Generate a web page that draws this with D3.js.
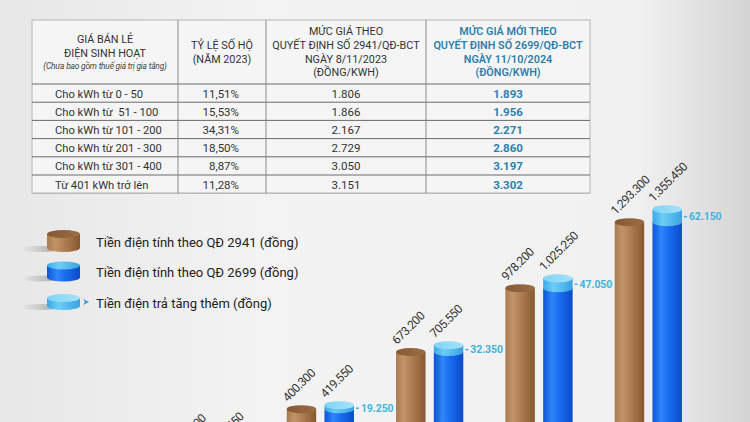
<!DOCTYPE html>
<html>
<head>
<meta charset="utf-8">
<script src="https://cdn.jsdelivr.net/npm/d3@7"></script>
<style>
  body { margin: 0; background: #eee; }
  svg { display: block; font-family: Roboto, "Noto Sans", sans-serif; }
</style>
</head>
<body>
<div id="chart"></div>
<script>
// table data
var tiers = ["Cho kWh từ 0 - 50", "Cho kWh từ  51 - 100", "Cho kWh từ 101 - 200",
             "Cho kWh từ 201 - 300", "Cho kWh từ 301 - 400", "Từ 401 kWh trở lên"];
var shares = ["11,51%", "15,53%", "34,31%", "18,50%", "8,87%", "11,28%"];
var priceOld = ["1.806", "1.866", "2.167", "2.729", "3.050", "3.151"];
var priceNew = ["1.893", "1.956", "2.271", "2.860", "3.197", "3.302"];

// chart data (bill in dong for a given monthly consumption)
var usage = [50, 100, 200, 300, 400, 500];
var billOld = [90300, 183600, 400300, 673200, 978200, 1293300];
var billNew = [94650, 192450, 419550, 705550, 1025250, 1355450];
var billDiff = [4350, 8850, 19250, 32350, 47050, 62150];

var legendLabels = ["Tiền điện tính theo QĐ 2941 (đồng)",
                    "Tiền điện tính theo QĐ 2699 (đồng)",
                    "Tiền điện trả tăng thêm (đồng)"];

var W = 750, H = 422;
var svg = d3.select("#chart").append("svg")
    .attr("width", W)
    .attr("height", H);

var defs = svg.append("defs");

function hGrad(id, stops) {
  var g = defs.append("linearGradient").attr("id", id)
      .attr("x1", "0%").attr("x2", "100%").attr("y1", "0%").attr("y2", "0%");
  stops.forEach(function(s) {
    g.append("stop").attr("offset", s[0]).attr("stop-color", s[1]);
  });
}
hGrad("bg", [["0%", "#e7e7e7"], ["35%", "#f3f3f3"], ["85%", "#f1f1f1"], ["100%", "#d4d4d4"]]);
hGrad("brown", [["0%", "#a87a4f"], ["25%", "#c29468"], ["60%", "#a9784c"], ["100%", "#865832"]]);
hGrad("brownTop", [["0%", "#855934"], ["100%", "#9c6d45"]]);
hGrad("blue", [["0%", "#0c55d6"], ["30%", "#2f86fb"], ["55%", "#1a6cf0"], ["100%", "#0a4bc8"]]);
hGrad("cyan", [["0%", "#3aa9e6"], ["35%", "#6ccdf6"], ["100%", "#3aa2e0"]]);
hGrad("cyanTop", [["0%", "#7fd4f6"], ["100%", "#a6e2f8"]]);
hGrad("shadow", [["0%", "rgba(80,80,80,0)"], ["100%", "rgba(60,60,60,0.7)"]]);

svg.append("rect").attr("width", W).attr("height", H).attr("fill", "url(#bg)");

// ---------- table ----------
var tx = [32, 178, 266, 426, 590];
var headTop = 20, headBottom = 84, rowH = 18.2;
var table = svg.append("g");

table.append("rect")
    .attr("x", tx[0]).attr("y", headTop)
    .attr("width", tx[4] - tx[0]).attr("height", headBottom - headTop + rowH * 6)
    .attr("fill", "#f5f5f5").attr("stroke", "#b5b5b5");

// row lines
d3.range(7).forEach(function(i) {
  table.append("line")
      .attr("x1", tx[0]).attr("x2", tx[4])
      .attr("y1", headBottom + i * rowH).attr("y2", headBottom + i * rowH)
      .attr("stroke", i == 6 ? "#b5b5b5" : "#6a6a6a").attr("stroke-width", 1);
});
[1, 2, 3].forEach(function(i) {
  table.append("line")
      .attr("x1", tx[i]).attr("x2", tx[i])
      .attr("y1", headTop).attr("y2", headBottom + rowH * 6)
      .attr("stroke", "#8a8a8a");
});

function headText(lines, cx, y0, color, weight) {
  lines.forEach(function(t, i) {
    table.append("text")
        .attr("x", cx).attr("y", y0 + i * 13.8)
        .attr("text-anchor", "middle")
        .attr("font-size", 10.8)
        .attr("font-weight", weight)
        .attr("fill", color)
        .text(t);
  });
}
headText(["GIÁ BÁN LẺ", "ĐIỆN SINH HOẠT"], 105, 43, "#333", 400);
table.append("text")
    .attr("x", 105).attr("y", 69)
    .attr("text-anchor", "middle")
    .attr("font-size", 8.4).attr("font-style", "italic")
    .attr("fill", "#444")
    .attr("letter-spacing", -0.2)
    .text("(Chưa bao gồm thuế giá trị gia tăng)");
headText(["TỶ LỆ SỐ HỘ", "(NĂM 2023)"], 222, 49, "#333", 400);
headText(["MỨC GIÁ THEO", "QUYẾT ĐỊNH SỐ 2941/QĐ-BCT", "NGÀY 8/11/2023", "(ĐỒNG/KWH)"], 346, 35, "#333", 400);
headText(["MỨC GIÁ MỚI THEO", "QUYẾT ĐỊNH SỐ 2699/QĐ-BCT", "NGÀY 11/10/2024", "(ĐỒNG/KWH)"], 508, 35, "#2e7fae", 600);

var rowY = function(i) { return headBottom + i * rowH + 13.5; };
table.selectAll(".c1").data(tiers).enter().append("text")
    .attr("x", 55).attr("y", function(d, i) { return rowY(i); })
    .attr("font-size", 11.2).attr("fill", "#333")
    .attr("xml:space", "preserve")
    .style("white-space", "pre")
    .text(function(d) { return d; });
table.selectAll(".c2").data(shares).enter().append("text")
    .attr("x", 239).attr("y", function(d, i) { return rowY(i); })
    .attr("text-anchor", "end")
    .attr("font-size", 11.5).attr("fill", "#333")
    .text(function(d) { return d; });
table.selectAll(".c3").data(priceOld).enter().append("text")
    .attr("x", 346).attr("y", function(d, i) { return rowY(i); })
    .attr("text-anchor", "middle")
    .attr("font-size", 11.5).attr("fill", "#333")
    .text(function(d) { return d; });
table.selectAll(".c4").data(priceNew).enter().append("text")
    .attr("x", 508).attr("y", function(d, i) { return rowY(i); })
    .attr("text-anchor", "middle")
    .attr("font-size", 11.5).attr("font-weight", 700).attr("fill", "#2e7fae")
    .text(function(d) { return d; });

// ---------- legend ----------
function cylinder(g, x, y, w, h, body, top, ry) {
  g.append("ellipse").attr("cx", x + 2).attr("cy", y + h + 1).attr("rx", w / 2 + 4).attr("ry", 3)
      .attr("fill", "url(#shadow)").attr("opacity", 0.6)
      .attr("transform", "translate(-8,0)");
  g.append("path")
      .attr("d", "M" + x + "," + y + " L" + x + "," + (y + h) +
                 " A" + (w / 2) + "," + ry + " 0 0 0 " + (x + w) + "," + (y + h) +
                 " L" + (x + w) + "," + y + " Z")
      .attr("fill", body);
  g.append("ellipse").attr("cx", x + w / 2).attr("cy", y).attr("rx", w / 2).attr("ry", ry)
      .attr("fill", top);
}

var legend = svg.append("g");
var legendFill = [["url(#brown)", "url(#brownTop)", 14], ["url(#blue)", "url(#cyan)", 12], ["url(#cyan)", "url(#cyanTop)", 8]];
legendLabels.forEach(function(t, i) {
  var cy = 242 + i * 30.5;
  var f = legendFill[i];
  cylinder(legend, 47, cy - f[2] / 2 - 1, 33, f[2], f[0], f[1], 4);
  legend.append("text")
      .attr("x", 96).attr("y", cy + 4.5)
      .attr("font-size", 13).attr("fill", "#222")
      .text(t);
});
legend.append("path")
    .attr("d", "M83,299 L89,302 L83,305 L85,302 Z")
    .attr("fill", "#2b9fd6");

// ---------- bars ----------
var cats = usage.map(String);
var x0 = d3.scaleBand().domain(cats).range([47, 703]).paddingInner(0.385).paddingOuter(0.1925);
var x1 = d3.scaleBand().domain(["old", "new"]).range([0, x0.bandwidth()]).paddingInner(0.22);
var y = d3.scaleLinear().domain([0, 1000000]).range([489, 279.6]);
var ry = 4, bottom = H + 10;
var bw = x1.bandwidth();
var fmt = function(v) { return d3.format(",")(v).replace(/,/g, "."); };

var groups = svg.append("g").selectAll("g").data(cats).enter().append("g")
    .attr("transform", function(d) { return "translate(" + x0(d) + ",0)"; });

groups.each(function(d, i) {
  var g = d3.select(this);
  // brown (old price)
  var bx = x1("old"), top = y(billOld[i]) + ry;
  g.append("rect").attr("x", bx).attr("y", top).attr("width", bw).attr("height", Math.max(0, bottom - top))
      .attr("fill", "url(#brown)");
  g.append("ellipse").attr("cx", bx + bw / 2).attr("cy", top).attr("rx", bw / 2).attr("ry", ry)
      .attr("fill", "url(#brownTop)");
  g.append("text")
      .attr("transform", "translate(" + (bx + 1) + "," + (top - 7) + ") rotate(-45)")
      .attr("font-size", 12).attr("fill", "#333").attr("letter-spacing", -0.5)
      .text(fmt(billOld[i]));

  // blue (new price) with cyan cap for the increase
  var nx = x1("new"), ntop = y(billNew[i]) + ry, ojoin = y(billOld[i]) + ry;
  g.append("rect").attr("x", nx).attr("y", ojoin).attr("width", bw).attr("height", Math.max(0, bottom - ojoin))
      .attr("fill", "url(#blue)");
  g.append("path")
      .attr("d", "M" + nx + "," + ntop + " L" + nx + "," + ojoin +
                 " A" + (bw / 2) + "," + ry + " 0 0 0 " + (nx + bw) + "," + ojoin +
                 " L" + (nx + bw) + "," + ntop + " Z")
      .attr("fill", "url(#cyan)");
  g.append("ellipse").attr("cx", nx + bw / 2).attr("cy", ntop).attr("rx", bw / 2).attr("ry", ry)
      .attr("fill", "url(#cyanTop)");
  g.append("text")
      .attr("transform", "translate(" + (nx + 1) + "," + (ntop - 7) + ") rotate(-45)")
      .attr("font-size", 12).attr("fill", "#333").attr("letter-spacing", -0.5)
      .text(fmt(billNew[i]));

  var my = (ntop + ojoin) / 2 + 1;
  g.append("line")
      .attr("x1", nx + bw + 2).attr("x2", nx + bw + 5)
      .attr("y1", my).attr("y2", my)
      .attr("stroke", "#40b3dd").attr("stroke-width", 1.5);
  g.append("text")
      .attr("x", nx + bw + 7).attr("y", my + 3.8)
      .attr("font-size", 10.5).attr("font-weight", 700).attr("fill", "#40b3dd")
      .attr("letter-spacing", -0.1)
      .text(fmt(billDiff[i]));
});
</script>
</body>
</html>
